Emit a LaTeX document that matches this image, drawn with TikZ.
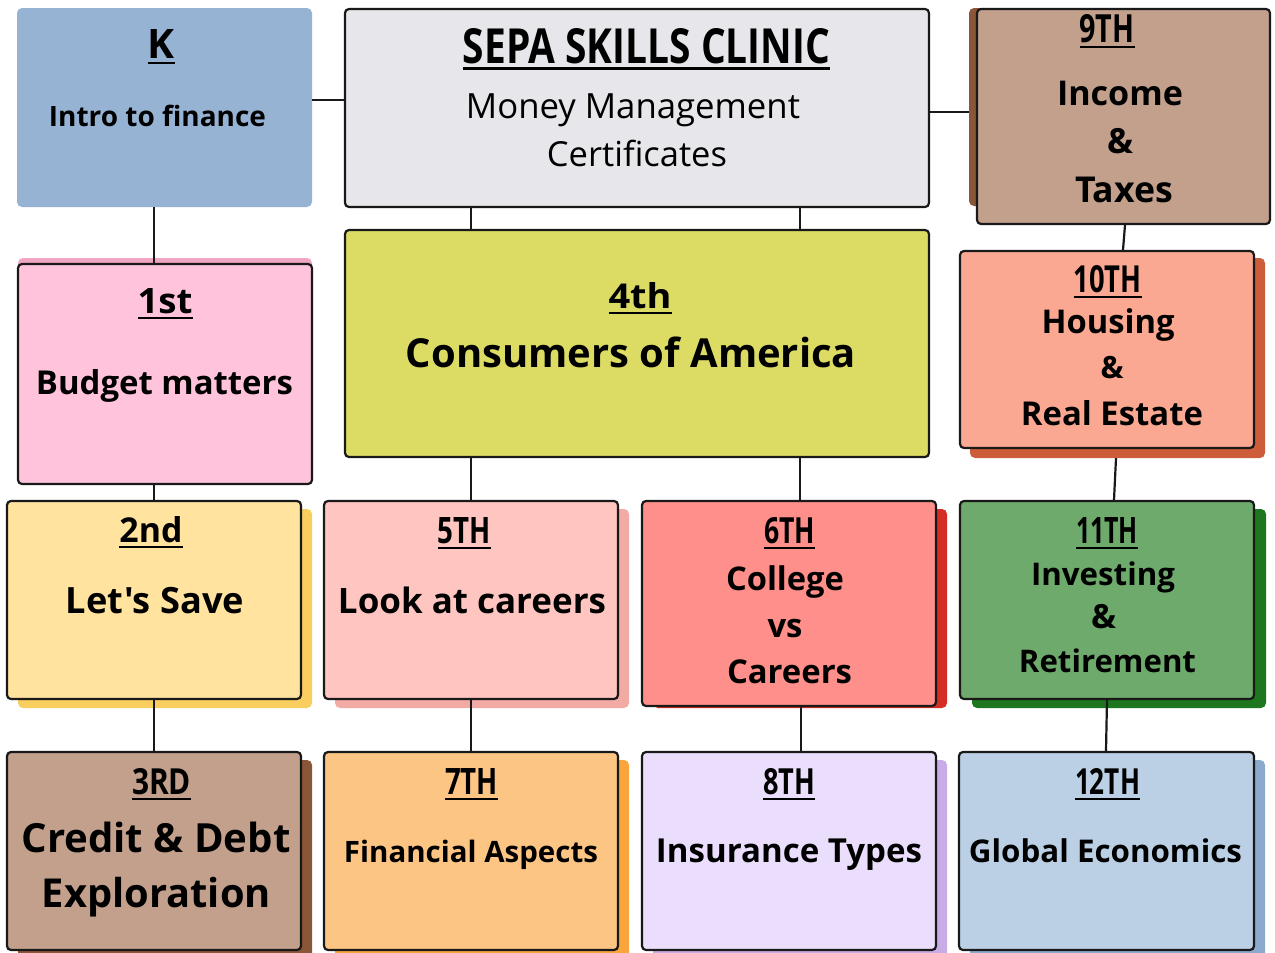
\documentclass[tikz,border=0pt]{standalone}
\usepackage{fontspec}
\usepackage{graphicx}
\setmainfont{Open Sans}[Ligatures=TeXOff]
\definecolor{cK}{RGB}{150,179,211}
\definecolor{cSepa}{RGB}{230,230,235}
\definecolor{cBrown}{RGB}{194,160,140}
\definecolor{sBrown}{RGB}{138,86,56}
\definecolor{cSalmon}{RGB}{250,168,145}
\definecolor{sSalmon}{RGB}{205,92,58}
\definecolor{cPink}{RGB}{255,196,220}
\definecolor{sPink}{RGB}{240,165,195}
\definecolor{cOlive}{RGB}{220,220,100}
\definecolor{cYellow}{RGB}{255,227,158}
\definecolor{sYellow}{RGB}{250,205,95}
\definecolor{cRose}{RGB}{255,197,192}
\definecolor{sRose}{RGB}{242,170,165}
\definecolor{cRed}{RGB}{255,143,138}
\definecolor{sRed}{RGB}{212,45,35}
\definecolor{cGreen}{RGB}{110,170,108}
\definecolor{sGreen}{RGB}{30,118,30}
\definecolor{cOrange}{RGB}{252,197,132}
\definecolor{sOrange}{RGB}{250,165,60}
\definecolor{cLilac}{RGB}{235,222,252}
\definecolor{sLilac}{RGB}{200,172,230}
\definecolor{cSky}{RGB}{187,208,228}
\definecolor{sSky}{RGB}{140,170,205}
\newcommand\hdg[3]{\setbox0\hbox{\resizebox{#1}{#2}{\bfseries #3}}\rlap{\rule[-6.3pt]{\wd0}{2.5pt}}\box0}
\newcommand\fitw[2]{\resizebox{#1}{!}{\bfseries #2}}
\tikzset{
  card/.style={rectangle, rounded corners=4pt, draw=black!90, line width=2.2pt, inner sep=0pt},
  plain/.style={rectangle, rounded corners=5pt, inner sep=0pt},
  shade/.style={rectangle, rounded corners=5pt, inner sep=0pt},
  txt/.style={anchor=base, inner sep=0pt, outer sep=0pt, text=black},
  link/.style={draw=black!90, line width=2.2pt}
}
\begin{document}
\begin{tikzpicture}[x=1pt,y=-1pt]
\useasboundingbox (0,0) rectangle (1275,953);
\fill[white] (0,0) rectangle (1275,953);
% shadows
\node[shade, fill=sBrown, minimum width=232pt, minimum height=198pt] (s9) at (1085,107) {};
\node[shade, fill=sSalmon, minimum width=295pt, minimum height=200pt] (s10) at (1117.5,358) {};
\node[shade, fill=sPink, minimum width=294pt, minimum height=212pt] (s1) at (165,364) {};
\node[shade, fill=sYellow, minimum width=294pt, minimum height=199pt] (s2) at (165,608.5) {};
\node[shade, fill=sRose, minimum width=294pt, minimum height=199pt] (s5) at (482,608.5) {};
\node[shade, fill=sRed, minimum width=294pt, minimum height=199pt] (s6) at (800,608.5) {};
\node[shade, fill=sGreen, minimum width=294pt, minimum height=199pt] (s11) at (1119,608.5) {};
\node[shade, fill=sBrown, minimum width=294pt, minimum height=200pt] (s3) at (165,860) {};
\node[shade, fill=sOrange, minimum width=294pt, minimum height=200pt] (s7) at (482,860) {};
\node[shade, fill=sLilac, minimum width=294pt, minimum height=200pt] (s8) at (800,860) {};
\node[shade, fill=sSky, minimum width=295pt, minimum height=200pt] (s12) at (1117.5,860) {};
% boxes
\node[plain, fill=cK, minimum width=295pt, minimum height=199pt] (k) at (164.5,107.5) {};
\node[card, fill=cSepa, minimum width=584pt, minimum height=198pt] (sepa) at (637,108) {};
\node[card, fill=cBrown, minimum width=293pt, minimum height=215pt] (g9) at (1123.5,116.5) {};
\node[card, fill=cSalmon, minimum width=294pt, minimum height=197pt] (g10) at (1107,349.5) {};
\node[card, fill=cPink, minimum width=294pt, minimum height=220pt] (g1) at (165,374) {};
\node[card, fill=cOlive, minimum width=584pt, minimum height=227pt] (g4) at (637,343.5) {};
\node[card, fill=cYellow, minimum width=294pt, minimum height=198pt] (g2) at (154,600) {};
\node[card, fill=cRose, minimum width=294pt, minimum height=198pt] (g5) at (471,600) {};
\node[card, fill=cRed, minimum width=294pt, minimum height=205pt] (g6) at (789,603.5) {};
\node[card, fill=cGreen, minimum width=294pt, minimum height=198pt] (g11) at (1107,600) {};
\node[card, fill=cBrown, minimum width=294pt, minimum height=198pt] (g3) at (154,851) {};
\node[card, fill=cOrange, minimum width=294pt, minimum height=198pt] (g7) at (471,851) {};
\node[card, fill=cLilac, minimum width=294pt, minimum height=198pt] (g8) at (789,851) {};
\node[card, fill=cSky, minimum width=295pt, minimum height=198pt] (g12) at (1106.5,851) {};
% connectors
\draw[link] (k.east |- 0,100) -- (sepa.west |- 0,100);
\draw[link] (sepa.east |- 0,112) -- (s9.west |- 0,112);
\draw[link] (k.south -| 154,0) -- (g1.north -| 154,0);
\draw[link] (sepa.south -| 471,0) -- (g4.north -| 471,0);
\draw[link] (sepa.south -| 800,0) -- (g4.north -| 800,0);
\draw[link] (g9.south -| 1125,0) -- (g10.north -| 1123,0);
\draw[link] (g1.south -| 154,0) -- (g2.north -| 154,0);
\draw[link] (g4.south -| 471,0) -- (g5.north -| 471,0);
\draw[link] (g4.south -| 800,0) -- (g6.north -| 800,0);
\draw[link] (s10.south -| 1116,0) -- (g11.north -| 1114,0);
\draw[link] (g2.south -| 154,0) -- (g3.north -| 154,0);
\draw[link] (g5.south -| 471,0) -- (g7.north -| 471,0);
\draw[link] (g6.south -| 801,0) -- (g8.north -| 801,0);
\draw[link] (g11.south -| 1107,0) -- (g12.north -| 1106,0);
% texts
\node[txt] (tk) at (161,58) {\hdg{27pt}{29pt}{K}};
\node[txt] (tk1) at (157.5,126) {\fitw{217pt}{Intro to finance}};
\node[txt] (ts) at (646.5,63) {\setbox0\hbox{\resizebox{367pt}{35pt}{\bfseries SEPA SKILLS CLINIC}}\rlap{\rule[-7pt]{\wd0}{3pt}}\box0};
\node[txt] (ts1) at (633,118) {\resizebox{334pt}{!}{Money Management}};
\node[txt] (ts2) at (637,166) {\resizebox{180pt}{!}{Certificates}};
\node[txt] (t9) at (1107,42) {\hdg{55pt}{28pt}{9TH}};
\node[txt] (t9a) at (1120,105) {\fitw{126pt}{Income}};
\node[txt] (t9b) at (1120,153) {\fitw{26pt}{\&}};
\node[txt] (t9c) at (1124,202) {\fitw{98pt}{Taxes}};
\node[txt] (t10) at (1107.5,292) {\hdg{68pt}{27pt}{10TH}};
\node[txt] (t10a) at (1108,333) {\fitw{133pt}{Housing}};
\node[txt] (t10b) at (1112,378) {\fitw{23pt}{\&}};
\node[txt] (t10c) at (1112,425) {\fitw{182pt}{Real Estate}};
\node[txt] (t1) at (165,313) {\hdg{55pt}{25pt}{1st}};
\node[txt] (t1a) at (164.5,394) {\fitw{257pt}{Budget matters}};
\node[txt] (t4) at (640,308) {\hdg{63pt}{26pt}{4th}};
\node[txt] (t4a) at (631,367) {\fitw{450pt}{Consumers of America}};
\node[txt] (t2) at (151,542) {\hdg{63pt}{26pt}{2nd}};
\node[txt] (t2a) at (155,613) {\fitw{178pt}{Let's Save}};
\node[txt] (t5) at (464,543) {\hdg{53pt}{26pt}{5TH}};
\node[txt] (t5a) at (472,613) {\fitw{268pt}{Look at careers}};
\node[txt] (t6) at (789.5,543) {\hdg{51pt}{26pt}{6TH}};
\node[txt] (t6a) at (785,590) {\fitw{118pt}{College}};
\node[txt] (t6b) at (785,637) {\fitw{35pt}{vs}};
\node[txt] (t6c) at (789.5,683) {\fitw{125pt}{Careers}};
\node[txt] (t11) at (1107,543) {\hdg{62pt}{26pt}{11TH}};
\node[txt] (t11a) at (1103,585) {\fitw{144pt}{Investing}};
\node[txt] (t11b) at (1103.5,628) {\fitw{25pt}{\&}};
\node[txt] (t11c) at (1107.5,672) {\fitw{177pt}{Retirement}};
\node[txt] (t3) at (161.5,794) {\hdg{59pt}{26pt}{3RD}};
\node[txt] (t3a) at (156,852) {\fitw{269pt}{Credit \& Debt}};
\node[txt] (t3b) at (156.5,907) {\fitw{229pt}{Exploration}};
\node[txt] (t7) at (471.5,794) {\hdg{53pt}{26pt}{7TH}};
\node[txt] (t7a) at (471,862) {\fitw{254pt}{Financial Aspects}};
\node[txt] (t8) at (789,794) {\hdg{52pt}{26pt}{8TH}};
\node[txt] (t8a) at (789,862) {\fitw{266pt}{Insurance Types}};
\node[txt] (t12) at (1107.5,794) {\hdg{65pt}{26pt}{12TH}};
\node[txt] (t12a) at (1105.5,862) {\fitw{273pt}{Global Economics}};
\end{tikzpicture}
\end{document}
